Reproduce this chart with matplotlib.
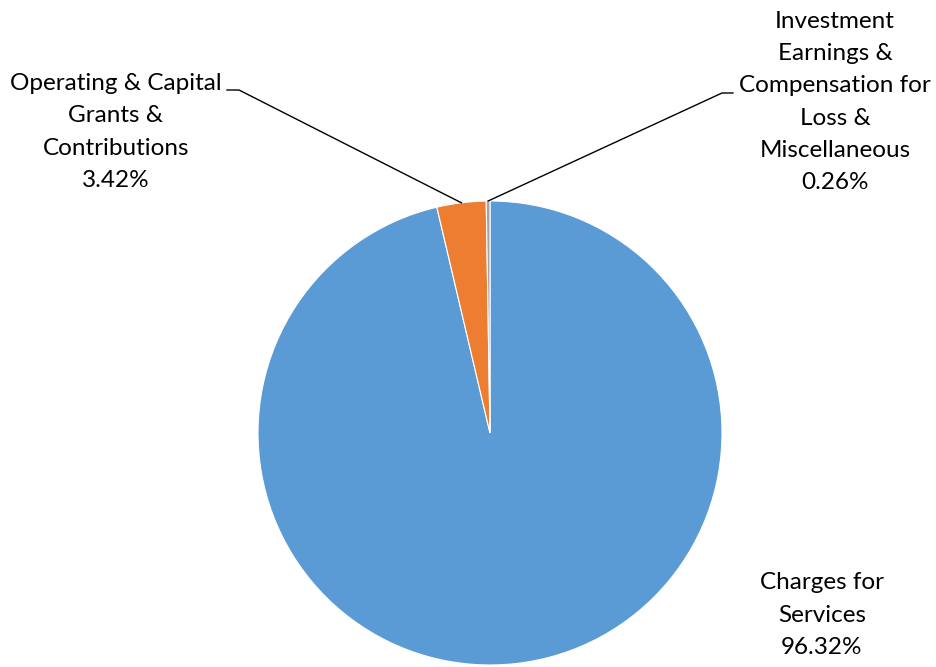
import matplotlib
matplotlib.use('Agg')
import matplotlib.pyplot as plt
import numpy as np

# revenue share by source, clockwise from 12 o'clock
categories = [
    'Charges for\nServices',
    'Operating & Capital\nGrants &\nContributions',
    'Investment\nEarnings &\nCompensation for\nLoss &\nMiscellaneous',
]
shares = [96.32, 3.42, 0.26]
colors = ['#5B9BD5', '#ED7D31', '#A5A5A5']

W, H = 936, 667
plt.rcParams['font.family'] = ['Lato', 'DejaVu Sans']

fig = plt.figure(figsize=(W / 100, H / 100), dpi=100)
ax = fig.add_axes([0, 0, 1, 1])

cx, cy, r = 490, H - 433, 232
wedges, _ = ax.pie(shares, colors=colors, startangle=90, counterclock=False,
                   center=(cx, cy), radius=r, frame=True,
                   wedgeprops=dict(edgecolor='white', linewidth=0.8))
ax.set_xlim(0, W)
ax.set_ylim(0, H)
ax.set_aspect('equal')
ax.axis('off')


def arc_mid(w):
    a = np.deg2rad((w.theta1 + w.theta2) / 2)
    return cx + r * np.cos(a), cy + r * np.sin(a)


# label centres (pixel layout) and leader line knees
label_pos = [(822, H - 615), (116, H - 132), (835, H - 102)]
leaders = {1: [(227, H - 90), (239, H - 90)],
           2: [(733, H - 93), (722, H - 93)]}

for i, (label, pct) in enumerate(zip(categories, shares)):
    x, y = label_pos[i]
    ax.text(x, y, '{}\n{:.2f}%'.format(label, pct), ha='center', va='center',
            fontsize=17.5, linespacing=1.65, color='#000000')
    if i in leaders:
        mx, my = arc_mid(wedges[i])
        pts = leaders[i] + [(mx, my)]
        ax.plot([p[0] for p in pts], [p[1] for p in pts], color='black',
                linewidth=1.0)

fig.savefig('out.png', dpi=100)
